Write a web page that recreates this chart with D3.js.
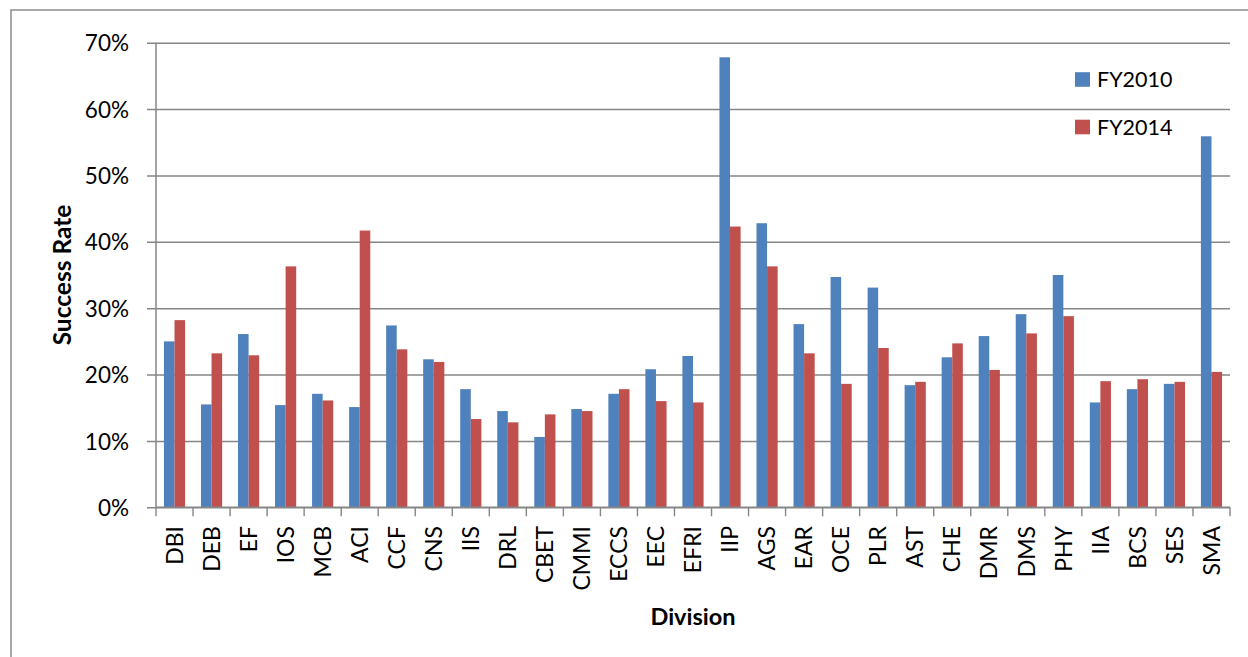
<!DOCTYPE html>
<html>
<head>
<meta charset="utf-8">
<script src="https://cdn.jsdelivr.net/npm/d3@7/dist/d3.min.js"></script>
<style>
  html, body { margin: 0; padding: 0; background: #ffffff; }
  svg { display: block; }
  text { font-family: Lato, "Open Sans", sans-serif; fill: #000; }
</style>
</head>
<body>
<svg id="chart" width="1248" height="657"></svg>
<script>
// ---- data (success rate, %) ----
const categories = ["DBI","DEB","EF","IOS","MCB","ACI","CCF","CNS","IIS","DRL","CBET","CMMI","ECCS","EEC","EFRI","IIP","AGS","EAR","OCE","PLR","AST","CHE","DMR","DMS","PHY","IIA","BCS","SES","SMA"];
const fy2010 = [25.0,15.5,26.1,15.4,17.1,15.1,27.4,22.3,17.8,14.5,10.6,14.8,17.1,20.8,22.8,67.8,42.8,27.6,34.7,33.1,18.4,22.6,25.8,29.1,35.0,15.8,17.8,18.6,55.9];
const fy2014 = [28.2,23.2,22.9,36.3,16.1,41.7,23.8,21.9,13.3,12.8,14.0,14.5,17.8,16.0,15.8,42.3,36.3,23.2,18.6,24.0,18.9,24.7,20.7,26.2,28.8,19.0,19.3,18.9,20.4];
const seriesNames = ["FY2010","FY2014"];
const yTicks = [0,10,20,30,40,50,60,70];

const colors = ["#4F81BD","#C0504D"];
const axisColor = "#868686";

const svg = d3.select("#chart");

// outer chart frame
svg.append("rect")
  .attr("x", 11).attr("y", 10)
  .attr("width", 1260).attr("height", 700)
  .attr("fill", "none").attr("stroke", "#8c8c8c").attr("stroke-width", 1.5);

const plot = {left: 156, right: 1230, top: 42.7, bottom: 507.3};

const x0 = d3.scaleBand().domain(categories).range([plot.left, plot.right]).padding(0);
const y = d3.scaleLinear().domain([0, 70]).range([plot.bottom, plot.top]);

// gridlines + y ticks
const yAxis = d3.axisLeft(y)
  .tickValues(yTicks)
  .tickSizeInner(-(plot.right - 147))
  .tickSizeOuter(0)
  .tickPadding(18)
  .tickFormat(d => d + "%");

const gy = svg.append("g").attr("transform", "translate(147,0)").call(yAxis);
gy.select(".domain").remove();
gy.selectAll(".tick line").attr("stroke", axisColor).attr("stroke-width", 1.4);
gy.selectAll(".tick text")
  .attr("font-size", 22.5)
  .attr("dy", "0.36em")
  .style("font-family", "Lato, sans-serif");

// bars
const bw = x0.step() / 3.5;
const series = [fy2010, fy2014];
series.forEach((vals, si) => {
  svg.append("g").selectAll("rect")
    .data(categories.map((c, i) => ({c, v: vals[i]})))
    .join("rect")
    .attr("x", d => x0(d.c) + 0.75 * bw + si * bw)
    .attr("y", d => y(d.v))
    .attr("width", bw)
    .attr("height", d => y(0) - y(d.v))
    .attr("fill", colors[si]);
});

// y axis line
svg.append("line")
  .attr("x1", plot.left).attr("x2", plot.left)
  .attr("y1", plot.top).attr("y2", plot.bottom)
  .attr("stroke", axisColor).attr("stroke-width", 1.5);

// x axis line
svg.append("line")
  .attr("x1", plot.left).attr("x2", plot.right)
  .attr("y1", plot.bottom).attr("y2", plot.bottom)
  .attr("stroke", axisColor).attr("stroke-width", 1.5);

// x tick marks at category boundaries
const bounds = categories.map(c => x0(c)).concat([x0(categories[categories.length - 1]) + x0.step()]);
svg.append("g").selectAll("line")
  .data(bounds)
  .join("line")
  .attr("x1", d => d).attr("x2", d => d)
  .attr("y1", plot.bottom).attr("y2", plot.bottom + 9)
  .attr("stroke", axisColor).attr("stroke-width", 1.4);

// x category labels (rotated)
svg.append("g").selectAll("text")
  .data(categories)
  .join("text")
  .attr("transform", d => `translate(${x0(d) + x0.step() / 2 + 8.2},526) rotate(-90)`)
  .attr("text-anchor", "end")
  .attr("font-size", 23)
  .text(d => d);

// axis titles
svg.append("text")
  .attr("transform", `translate(71,${(plot.top + plot.bottom) / 2}) rotate(-90)`)
  .attr("text-anchor", "middle")
  .attr("font-size", 24.5)
  .attr("font-weight", "bold")
  .text("Success Rate");

svg.append("text")
  .attr("x", (plot.left + plot.right) / 2)
  .attr("y", 625)
  .attr("text-anchor", "middle")
  .attr("font-size", 23.5)
  .attr("font-weight", "bold")
  .text("Division");

// legend
const legend = svg.append("g");
seriesNames.forEach((name, i) => {
  const cy = 79.5 + i * 47.5;
  legend.append("rect")
    .attr("x", 1075).attr("y", cy - 7.3)
    .attr("width", 15).attr("height", 14.6)
    .attr("fill", colors[i]);
  legend.append("text")
    .attr("x", 1097).attr("y", cy)
    .attr("dy", "0.36em")
    .attr("font-size", 21.5)
    .text(name);
});
</script>
</body>
</html>
